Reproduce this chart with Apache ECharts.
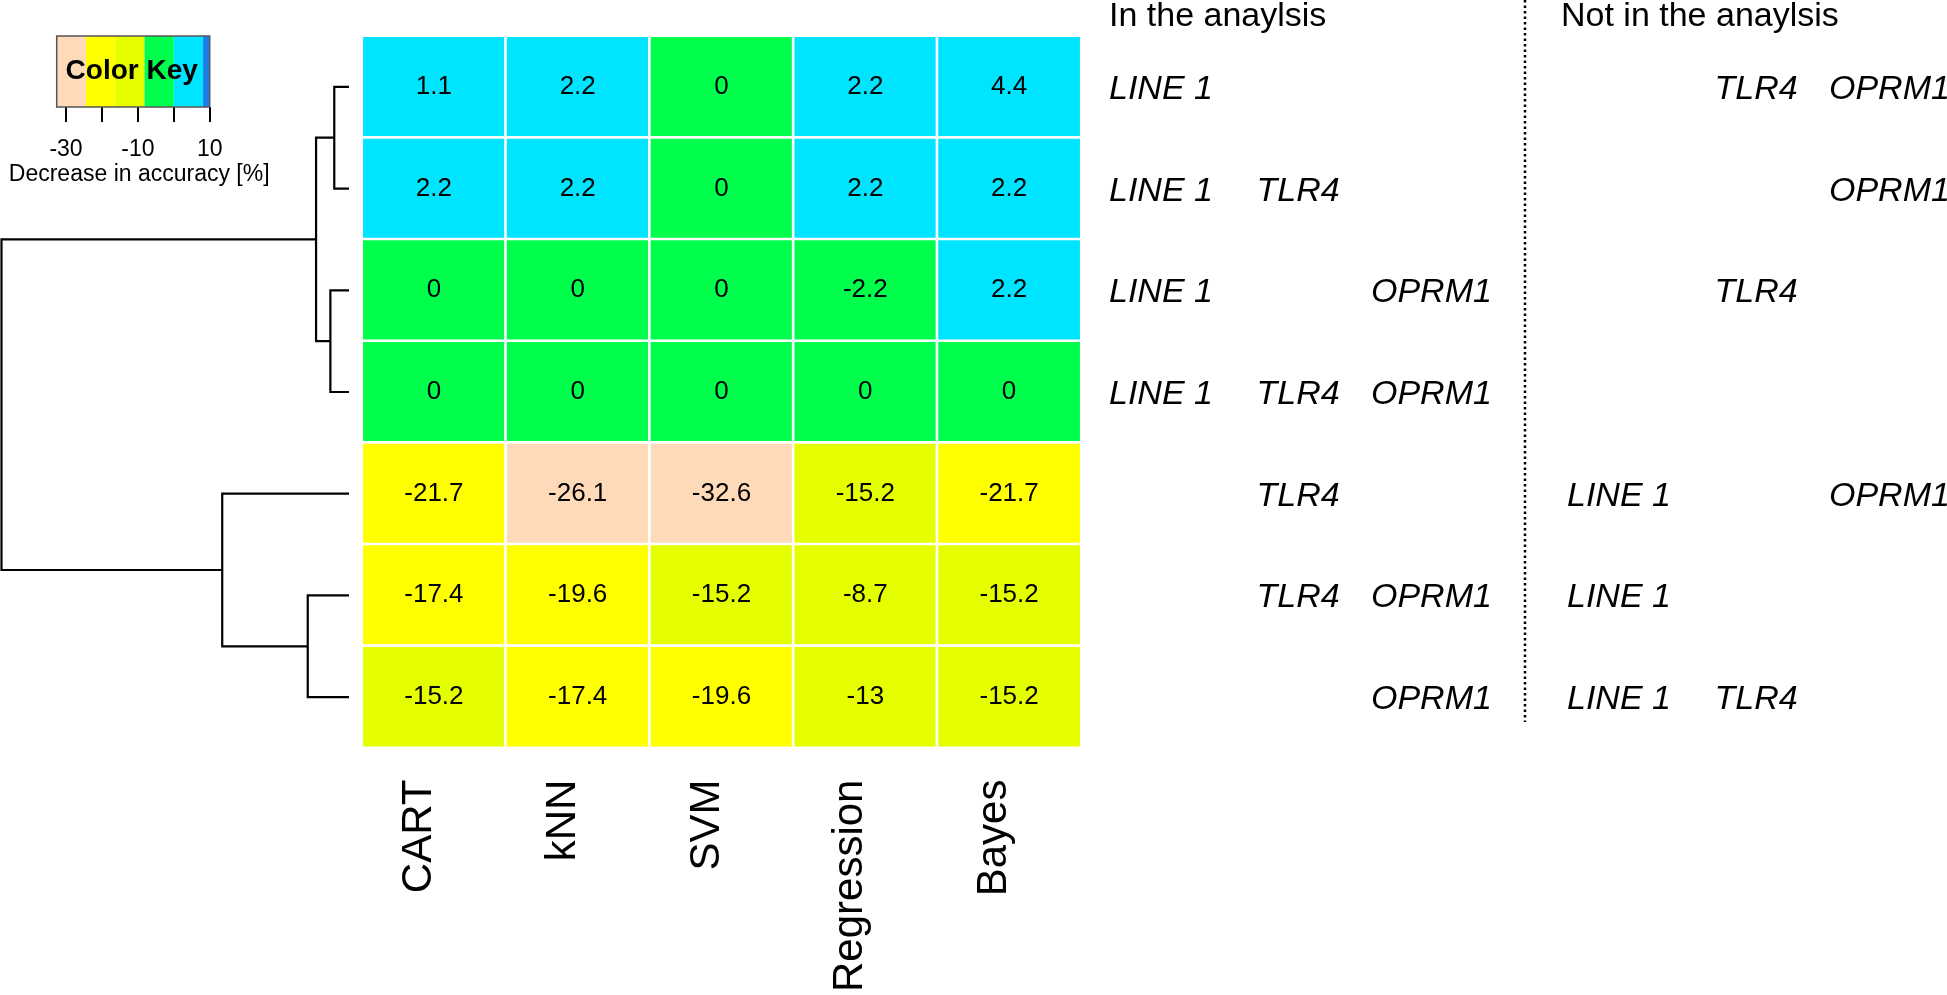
<!DOCTYPE html>
<html><head><meta charset="utf-8">
<script src="https://cdn.jsdelivr.net/npm/echarts@6/dist/echarts.min.js"></script>
<style>html,body{margin:0;padding:0;background:#fff}#c{width:1947px;height:995px}</style>
</head><body><div id="c"></div>
<script>
// ---------- data ----------
const methods = ['CART', 'kNN', 'SVM', 'Regression', 'Bayes'];
const rowIds = ['R1', 'R2', 'R3', 'R4', 'R5', 'R6', 'R7'];
const genes = ['LINE 1', 'TLR4', 'OPRM1'];
const row1 = [1.1, 2.2, 0, 2.2, 4.4];
const row2 = [2.2, 2.2, 0, 2.2, 2.2];
const row3 = [0, 0, 0, -2.2, 2.2];
const row4 = [0, 0, 0, 0, 0];
const row5 = [-21.7, -26.1, -32.6, -15.2, -21.7];
const row6 = [-17.4, -19.6, -15.2, -8.7, -15.2];
const row7 = [-15.2, -17.4, -19.6, -13, -15.2];
// genes (index into genes) in the analysis for each row
const inAnalysis = [[0], [0, 1], [0, 2], [0, 1, 2], [1], [1, 2], [2]];
// dendrogram (hclust style: negative = leaf, positive = earlier merge)
const mergePairs = [[-1, -2], [-3, -4], [-6, -7], [1, 2], [-5, 3], [4, 5]];
const mergeHeights = [2.46, 3.11, 6.89, 5.50, 21.17, 58.03];
// colour key
const keyBreaks = [-32.6, -24.45, -16.3, -8.15, 0, 8.15, 10];
const keyColors = ['#FFDAB9', '#FFFF00', '#E5FF00', '#00FF4D', '#00E5FF', '#1A7FE8'];
const keyTicks = [-30, -20, -10, 0, 10];
const keyTickLabels = [-30, -10, 10];

// ---------- build ----------
const rows = [row1, row2, row3, row4, row5, row6, row7];
const heatData = [];
rows.forEach((r, ri) => r.forEach((v, ci) => heatData.push([ci, ri, v])));

const nodes = [];
function nodeOf(id) {
  if (id < 0) return { h: 0, y: -id - 1 + 0.5 };
  return nodes[id - 1];
}
const dendroLines = [];
mergePairs.forEach((pair, i) => {
  const a = nodeOf(pair[0]), b = nodeOf(pair[1]);
  const h = mergeHeights[i];
  nodes.push({ h: h, y: (a.y + b.y) / 2 });
  dendroLines.push({ coords: [[a.h, a.y], [h, a.y], [h, b.y], [b.h, b.y]] });
});

const keyBins = [];
for (let i = 0; i < keyColors.length; i++) keyBins.push([keyBreaks[i], keyBreaks[i + 1]]);
const pieces = keyBins.map((b, i) => i === 0
  ? { gte: b[0], lte: b[1], color: keyColors[i] }
  : { gt: b[0], lte: b[1], color: keyColors[i] });

const geneData = [];
inAnalysis.forEach((list, r) => {
  genes.forEach((g, gi) => geneData.push([list.includes(gi) ? 0 : 1, gi, r]));
});

// ---------- layout / style ----------
const FONT = '"Liberation Sans", Arial, Helvetica, sans-serif';
const sideOffset = [0, 458];
const slotOffset = [0, 147.5, 262];
const GT = 36, GH = 712;

const chart = echarts.init(document.getElementById('c'), null, { renderer: 'canvas' });
chart.setOption({
  backgroundColor: '#ffffff',
  animation: false,
  textStyle: { fontFamily: FONT },
  grid: [
    { left: 362, top: GT, width: 719, height: GH },          // heatmap
    { left: 1.5, top: GT, width: 347.5, height: GH },        // dendrogram
    { left: 56.7, top: 36, width: 153, height: 71 },          // colour key
    { left: 1109, top: GT, width: 838, height: GH }           // gene table
  ],
  xAxis: [
    { gridIndex: 0, type: 'category', data: methods, position: 'bottom',
      axisLine: { show: false }, axisTick: { show: false }, splitLine: { show: false },
      axisLabel: { rotate: 90, fontSize: 42, color: '#000', margin: 32, fontFamily: FONT,
                   verticalAlign: 'bottom', lineHeight: 29 } },
    { gridIndex: 1, type: 'value', min: 0, max: Math.max(...mergeHeights), inverse: true, show: false },
    { gridIndex: 2, type: 'value', min: keyBreaks[0], max: keyBreaks[keyBreaks.length - 1], position: 'bottom',
      axisLine: { show: false }, splitLine: { show: false },
      axisTick: { show: true, length: 15, customValues: keyTicks, lineStyle: { color: '#000', width: 2 } },
      axisLabel: { show: true, customValues: keyTickLabels, fontSize: 23, color: '#000', margin: 31, fontFamily: FONT },
      name: 'Decrease in accuracy [%]', nameLocation: 'middle', nameGap: 56,
      nameTextStyle: { fontSize: 23, color: '#000', fontFamily: FONT, padding: [0, 0, 0, 12] } },
    { gridIndex: 3, type: 'value', min: 0, max: 1, show: false }
  ],
  yAxis: [
    { gridIndex: 0, type: 'category', data: rowIds, inverse: true, show: false },
    { gridIndex: 1, type: 'value', min: 0, max: rowIds.length, inverse: true, show: false },
    { gridIndex: 2, type: 'value', min: 0, max: 1, show: false },
    { gridIndex: 3, type: 'category', data: rowIds, inverse: true, show: false }
  ],
  visualMap: {
    show: false, type: 'piecewise', seriesIndex: 0, dimension: 2, pieces: pieces
  },
  series: [
    { type: 'heatmap', xAxisIndex: 0, yAxisIndex: 0, data: heatData,
      itemStyle: { borderColor: '#ffffff', borderWidth: 2.6 },
      label: { show: true, fontSize: 26, color: '#000', fontFamily: FONT,
               formatter: p => String(p.value[2]) },
      emphasis: { disabled: true } },
    { type: 'lines', coordinateSystem: 'cartesian2d', xAxisIndex: 1, yAxisIndex: 1,
      polyline: true, data: dendroLines, silent: true,
      lineStyle: { color: '#000', width: 2.2, opacity: 1 } },
    { type: 'custom', xAxisIndex: 2, yAxisIndex: 2, data: keyBins, silent: true,
      renderItem: (params, api) => {
        const p0 = api.coord([api.value(0), 1]);
        const p1 = api.coord([api.value(1), 0]);
        return { type: 'rect', shape: { x: p0[0], y: p0[1], width: p1[0] - p0[0], height: p1[1] - p0[1] },
                 style: { fill: keyColors[params.dataIndex] } };
      } },
    { type: 'custom', xAxisIndex: 2, yAxisIndex: 2, data: [[keyBreaks[0], keyBreaks[keyBreaks.length - 1]]], silent: true, z: 5,
      renderItem: (params, api) => {
        const p0 = api.coord([api.value(0), 1]);
        const p1 = api.coord([api.value(1), 0]);
        return { type: 'rect', shape: { x: p0[0], y: p0[1], width: p1[0] - p0[0], height: p1[1] - p0[1] },
                 style: { fill: 'none', stroke: '#555', lineWidth: 1.5 } };
      } },
    { type: 'custom', xAxisIndex: 3, yAxisIndex: 3, data: geneData, silent: true,
      renderItem: (params, api) => {
        const cs = params.coordSys;
        const y = api.coord([0, api.value(2)])[1];
        return { type: 'text', x: cs.x + sideOffset[api.value(0)] + slotOffset[api.value(1)], y: y + 2.5,
                 style: { text: genes[api.value(1)], font: 'italic 34px ' + FONT, fill: '#000',
                          align: 'left', verticalAlign: 'middle' } };
      } }
  ],
  graphic: [
    { type: 'text', x: 131.7, y: 71, z: 10,
      style: { text: 'Color Key', font: 'bold 28px ' + FONT, fill: '#000', align: 'center', verticalAlign: 'middle' } },
    { type: 'text', x: 1109, y: 17,
      style: { text: 'In the anaylsis', font: '34px ' + FONT, fill: '#000', align: 'left', verticalAlign: 'middle' } },
    { type: 'text', x: 1561, y: 17,
      style: { text: 'Not in the anaylsis', font: '34px ' + FONT, fill: '#000', align: 'left', verticalAlign: 'middle' } },
    { type: 'line', shape: { x1: 1525, y1: 0, x2: 1525, y2: 722 },
      style: { stroke: '#000', lineWidth: 2.5, lineDash: [2.5, 3] } }
  ]
});
</script>
</body></html>
